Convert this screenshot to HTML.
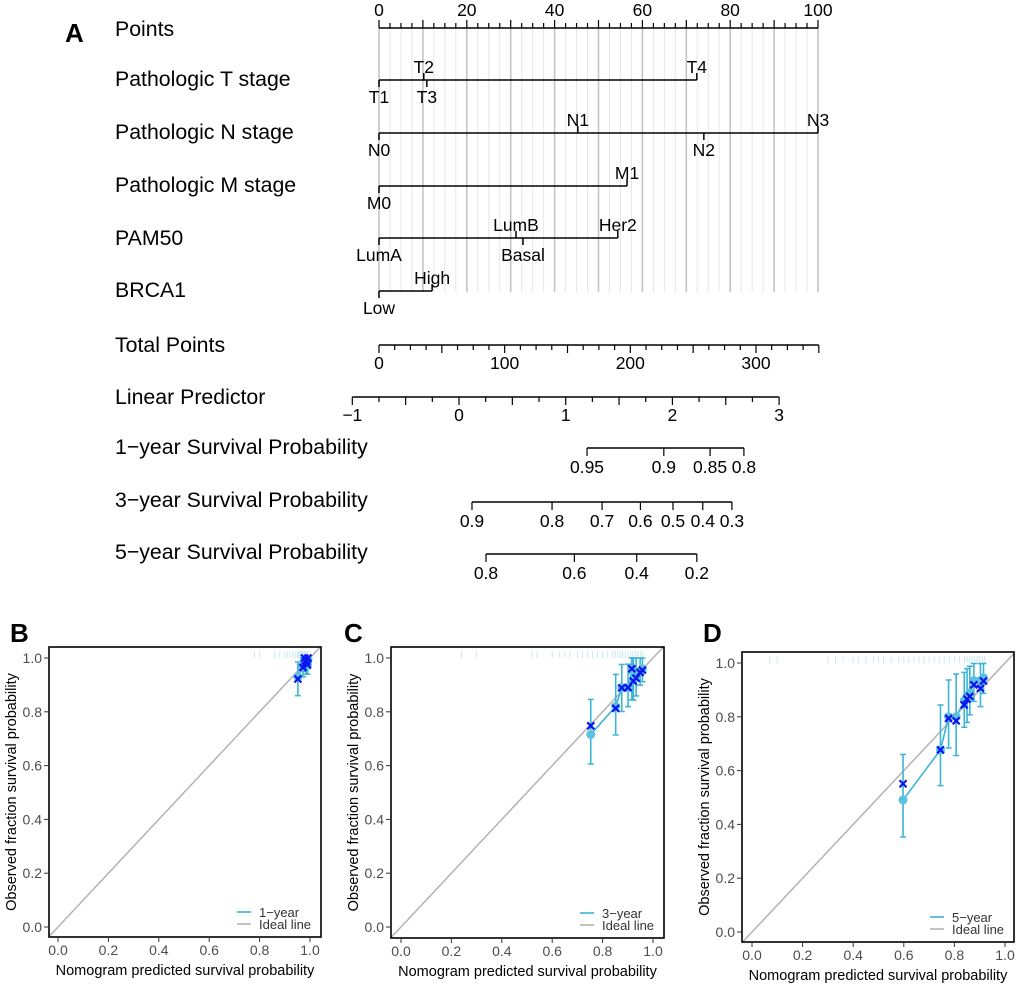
<!DOCTYPE html>
<html><head><meta charset="utf-8"><style>
body{margin:0;background:#fff}
svg{display:block;font-family:"Liberation Sans",Arial,sans-serif}
</style></head><body>
<svg id="fig" width="1020" height="986" viewBox="0 0 1020 986"></svg>
<script>
// ---------- Nomogram data ----------
const rowLabels = ["Points","Pathologic T stage","Pathologic N stage","Pathologic M stage","PAM50","BRCA1","Total Points","Linear Predictor","1\u2212year Survival Probability","3\u2212year Survival Probability","5\u2212year Survival Probability"];
const tLevels = ["T1","T2","T3","T4"];
const tPoints = [0,10.2,10.9,72.4];
const tAbove = [false,true,false,true];
const nLevels = ["N0","N1","N2","N3"];
const nPoints = [0,45.3,74,100];
const nAbove = [false,true,false,true];
const mLevels = ["M0","M1"];
const mPoints = [0,56.5];
const mAbove = [false,true];
const pamLevels = ["LumA","LumB","Basal","Her2"];
const pamPoints = [0,31.2,32.8,54.4];
const pamAbove = [false,true,false,true];
const brcaLevels = ["Low","High"];
const brcaPoints = [0,12.1];
const brcaAbove = [false,true];
const pointsTicks = [0,20,40,60,80,100];
const totalTicks = [0,100,200,300];
const totalMax = 350;
const lpTicks = [-1,0,1,2,3];
const surv1Ticks = [0.95,0.9,0.85,0.8];
const surv1Labels = ["0.95","0.9","0.85","0.8"];
const surv3Ticks = [0.9,0.8,0.7,0.6,0.5,0.4,0.3];
const surv3Labels = ["0.9","0.8","0.7","0.6","0.5","0.4","0.3"];
const surv5Ticks = [0.8,0.6,0.4,0.2];
const surv5Labels = ["0.8","0.6","0.4","0.2"];
const baseLogCumHaz = [-4.17,-2.372,-1.753];

// ---------- Calibration data ----------
const calB_pred = [0.952,0.972,0.978,0.982,0.986,0.99,0.992];
const calB_obsX = [0.922,0.965,1.0,0.99,0.985,0.975,1.0];
const calB_obs = [0.93,0.97,0.995,0.99,0.98,0.975,0.995];
const calB_lo = [0.86,0.93,0.95,0.95,0.94,0.94,0.96];
const calB_hi = [0.985,1,1,1,1,1,1];
const calB_rug = [0.78,0.8,0.86,0.88,0.9,0.91,0.92,0.93,0.94,0.95,0.955,0.96,0.965,0.97,0.975,0.98,0.985,0.99];

const calC_pred = [0.753,0.852,0.876,0.901,0.916,0.922,0.933,0.949,0.958];
const calC_obsX = [0.748,0.813,0.889,0.890,0.960,0.914,0.925,0.946,0.955];
const calC_obs = [0.716,0.82,0.89,0.89,0.955,0.92,0.93,0.95,0.96];
const calC_lo = [0.606,0.714,0.801,0.819,0.844,0.844,0.859,0.899,0.912];
const calC_hi = [0.846,0.939,0.976,0.977,1,1,1,1,1];
const calC_rug = [0.24,0.3,0.52,0.54,0.6,0.63,0.65,0.67,0.7,0.72,0.74,0.76,0.78,0.8,0.82,0.84,0.85,0.86,0.87,0.88,0.89,0.9,0.91,0.92,0.93,0.94,0.95,0.96];

const calD_pred = [0.597,0.745,0.777,0.807,0.839,0.850,0.861,0.877,0.903,0.915];
const calD_obsX = [0.551,0.677,0.794,0.785,0.844,0.866,0.876,0.919,0.906,0.933];
const calD_obs = [0.491,0.677,0.80,0.80,0.86,0.88,0.89,0.935,0.935,0.945];
const calD_lo = [0.353,0.544,0.684,0.656,0.761,0.779,0.807,0.857,0.838,0.887];
const calD_hi = [0.66,0.844,0.937,0.959,0.965,0.979,0.988,0.998,0.998,0.998];
const calD_rug = [0.07,0.1,0.3,0.33,0.36,0.4,0.42,0.45,0.48,0.5,0.52,0.55,0.58,0.6,0.62,0.64,0.66,0.68,0.7,0.72,0.74,0.76,0.78,0.8,0.82,0.84,0.85,0.86,0.87,0.88,0.89,0.9,0.91,0.92];
const calTicks = [0,0.2,0.4,0.6,0.8,1.0];
const calTickLabels = ["0.0","0.2","0.4","0.6","0.8","1.0"];

const NS="http://www.w3.org/2000/svg";
const svg=document.getElementById("fig");
function el(tag,attrs,parent){const e=document.createElementNS(NS,tag);for(const k in attrs)e.setAttribute(k,attrs[k]);(parent||svg).appendChild(e);return e;}
function txt(s,x,y,size,anchor,parent,extra){const t=el("text",Object.assign({x:x,y:y,"font-size":size,"text-anchor":anchor||"middle",fill:"#000"},extra||{}),parent);t.textContent=s;return t;}

// ---------- Nomogram axes ----------
const ptsX = p => 379 + p*4.39;
const totX = p => 379 + p*1.2566;
const lpX = v => 459 + v*106.7;
const survX = (s,i) => lpX(Math.log(-Math.log(s)) - baseLogCumHaz[i]);
const rowY = [28,80,133,186,238,291,345,397,448,502,554];
const labY = [36,86,139,192,245,297,352,404,454,507,559];

const nomo = el("g",{});


const A = txt("A",65,42,26,"start",nomo,{"font-weight":"bold"});



for(let p=0;p<=100.001;p+=2.5){
  const major = Math.abs(p/10-Math.round(p/10))<1e-6;
  const g=el("line",{x1:ptsX(p),x2:ptsX(p),y1:28,y2:292,stroke:major?"#c4c4c4":"#e6e6e6","stroke-width":major?1.6:1},nomo);
  
  
}
rowLabels.forEach((s,i)=>{
  const t=txt(s,115,labY[i],21.3,"start",nomo);
  
  
});
el("line",{x1:ptsX(0),x2:ptsX(100),y1:28,y2:28,stroke:"#000","stroke-width":1.5},nomo);
for(let p=0;p<=100.001;p+=2.5){
  const big=Math.abs(p/10-Math.round(p/10))<1e-6;
  el("line",{x1:ptsX(p),x2:ptsX(p),y1:28,y2:big?20:23,stroke:"#000","stroke-width":1.2},nomo);
}
pointsTicks.forEach(v=>{const t=txt(String(v),ptsX(v),16,17.5,"middle",nomo);});

function factorRow(levels,points,above,y,name){
  const g=el("g",{},nomo);
  
  
  const mx=Math.max(...points);
  el("line",{x1:ptsX(0),x2:ptsX(mx),y1:y,y2:y,stroke:"#000","stroke-width":1.5},g);
  levels.forEach((l,i)=>{
    const x=ptsX(points[i]);
    el("line",{x1:x,x2:x,y1:y,y2:above[i]?y-7:y+7,stroke:"#000","stroke-width":1.5},g);
    const t=txt(l,x,above[i]?y-7:y+23,17.5,"middle",g);
    
    
  });
}
factorRow(tLevels,tPoints,tAbove,rowY[1],"t-stage-scale");
factorRow(nLevels,nPoints,nAbove,rowY[2],"n-stage-scale");
factorRow(mLevels,mPoints,mAbove,rowY[3],"m-stage-scale");
factorRow(pamLevels,pamPoints,pamAbove,rowY[4],"pam50-scale");
factorRow(brcaLevels,brcaPoints,brcaAbove,rowY[5],"brca1-scale");

const tg=el("g",{},nomo);


el("line",{x1:totX(0),x2:totX(totalMax),y1:rowY[6],y2:rowY[6],stroke:"#000","stroke-width":1.5},tg);
for(let p=0;p<=totalMax+0.01;p+=12.5){
  const big=Math.abs(p/50-Math.round(p/50))<1e-6;
  el("line",{x1:totX(p),x2:totX(p),y1:rowY[6],y2:rowY[6]+(big?8:5),stroke:"#000","stroke-width":1.2},tg);
}
totalTicks.forEach(v=>txt(String(v),totX(v),rowY[6]+24,17.5,"middle",tg));

const lg=el("g",{},nomo);


el("line",{x1:lpX(-1),x2:lpX(3),y1:rowY[7],y2:rowY[7],stroke:"#000","stroke-width":1.5},lg);
for(let v=-1;v<=3.001;v+=0.25){
  const big=Math.abs(v*2-Math.round(v*2))<1e-6;
  el("line",{x1:lpX(v),x2:lpX(v),y1:rowY[7],y2:rowY[7]+(big?8:5),stroke:"#000","stroke-width":1.2},lg);
}
lpTicks.forEach(v=>txt(v<0?"\u2212"+Math.abs(v):String(v),lpX(v),rowY[7]+24,17.5,"middle",lg));

function survRow(ticks,labels,idx,y,name){
  const g=el("g",{},nomo);
  
  
  const xs=ticks.map(s=>survX(s,idx));
  el("line",{x1:Math.min(...xs),x2:Math.max(...xs),y1:y,y2:y,stroke:"#000","stroke-width":1.5},g);
  xs.forEach((x,i)=>{
    el("line",{x1:x,x2:x,y1:y,y2:y+8,stroke:"#000","stroke-width":1.2},g);
    txt(labels[i],x,y+25,17.5,"middle",g);
  });
}
survRow(surv1Ticks,surv1Labels,0,rowY[8],"survival-1-year-axis");
survRow(surv3Ticks,surv3Labels,1,rowY[9],"survival-3-year-axis");
survRow(surv5Ticks,surv5Labels,2,rowY[10],"survival-5-year-axis");

// ---------- Calibration panels ----------
function calPanel(cfg){
  const g=el("g",{});
  
  
  const X=v=>cfg.x0+v*(cfg.x1-cfg.x0);
  const Y=v=>cfg.y0-v*(cfg.y0-cfg.y1);
  const L=txt(cfg.letter,cfg.lx,cfg.ly,26,"start",g,{"font-weight":"bold"});
  
  
  const id=el("line",{x1:cfg.bl,y1:Y((cfg.bl-cfg.x0)/(cfg.x1-cfg.x0)),x2:cfg.br,y2:Y((cfg.br-cfg.x0)/(cfg.x1-cfg.x0)),stroke:"#b3b3b3","stroke-width":1.5},g);
  
  
  cfg.rug.forEach(r=>el("line",{x1:X(r),x2:X(r),y1:cfg.bt+4,y2:cfg.bt+11,stroke:"#cbe9f2","stroke-width":1},g));
  cfg.pred.forEach((p,i)=>{
    const x=X(p);
    const e=el("line",{x1:x,x2:x,y1:Y(cfg.lo[i]),y2:Y(cfg.hi[i]),stroke:"#3bb4d6","stroke-width":1.6},g);
    
    
    el("line",{x1:x-3,x2:x+3,y1:Y(cfg.lo[i]),y2:Y(cfg.lo[i]),stroke:"#3bb4d6","stroke-width":1.5},g);
    el("line",{x1:x-3,x2:x+3,y1:Y(cfg.hi[i]),y2:Y(cfg.hi[i]),stroke:"#3bb4d6","stroke-width":1.5},g);
  });
  const pl=el("polyline",{points:cfg.pred.map((p,i)=>X(p)+","+Y(cfg.obs[i])).join(" "),fill:"none",stroke:"#3bb4d6","stroke-width":1.6},g);
  
  
  cfg.pred.forEach((p,i)=>{
    const c=el("circle",{cx:X(p),cy:Y(cfg.obs[i]),r:4.5,fill:"#5bc2de"},g);
    
    
  });
  cfg.pred.forEach((p,i)=>{
    const x=X(p),y=Y(cfg.obsX[i]);
    const c=el("path",{d:`M${x-3.5},${y-3.5}L${x+3.5},${y+3.5}M${x-3.5},${y+3.5}L${x+3.5},${y-3.5}`,stroke:"#0a14f0","stroke-width":2.2},g);
    
    
  });
  const f=el("rect",{x:cfg.bl,y:cfg.bt,width:cfg.br-cfg.bl,height:cfg.bb-cfg.bt,fill:"none",stroke:"#000","stroke-width":1.6},g);
  
  
  calTicks.forEach((v,i)=>{
    el("line",{x1:X(v),x2:X(v),y1:cfg.bb,y2:cfg.bb+5,stroke:"#333","stroke-width":1},g);
    const tx=txt(calTickLabels[i],X(v),cfg.bb+18,14,"middle",g,{fill:"#4d4d4d"});
    
    
    el("line",{x1:cfg.bl-5,x2:cfg.bl,y1:Y(v),y2:Y(v),stroke:"#333","stroke-width":1},g);
    const ty=txt(calTickLabels[i],cfg.bl-7,Y(v)+5,14,"end",g,{fill:"#4d4d4d"});
    
    
  });
  const xt=txt("Nomogram predicted survival probability",(cfg.bl+cfg.br)/2,cfg.bb+38,14.5,"middle",g);
  
  
  const yc=(cfg.bt+cfg.bb)/2, yx=cfg.bl-33;
  const yt=txt("Observed fraction survival probability",yx,yc,14.5,"middle",g,{transform:`rotate(-90 ${yx} ${yc})`});
  
  
  const lgd=el("g",{},g);
  
  
  const lx=cfg.br-84, ly=cfg.bb-25;
  el("line",{x1:lx,x2:lx+14,y1:ly,y2:ly,stroke:"#3bb4d6","stroke-width":1.6},lgd);
  txt(cfg.series,lx+22,ly+5,13,"start",lgd,{fill:"#333"});
  el("line",{x1:lx,x2:lx+14,y1:ly+12,y2:ly+12,stroke:"#b3b3b3","stroke-width":1.6},lgd);
  txt("Ideal line",lx+22,ly+17,13,"start",lgd,{fill:"#333"});
}
calPanel({name:"calibration-1-year",letter:"B",lx:10,ly:642,x0:58,x1:310,y0:927,y1:658,bl:49,br:321,bt:647,bb:937,series:"1\u2212year",pred:calB_pred,obsX:calB_obsX,obs:calB_obs,lo:calB_lo,hi:calB_hi,rug:calB_rug});
calPanel({name:"calibration-3-year",letter:"C",lx:344,ly:642,x0:401,x1:653,y0:927,y1:658,bl:391,br:664,bt:647,bb:938,series:"3\u2212year",pred:calC_pred,obsX:calC_obsX,obs:calC_obs,lo:calC_lo,hi:calC_hi,rug:calC_rug});
calPanel({name:"calibration-5-year",letter:"D",lx:703,ly:642,x0:752,x1:1005,y0:932,y1:663,bl:742,br:1014,bt:652,bb:942,series:"5\u2212year",pred:calD_pred,obsX:calD_obsX,obs:calD_obs,lo:calD_lo,hi:calD_hi,rug:calD_rug});
</script>
</body></html>
